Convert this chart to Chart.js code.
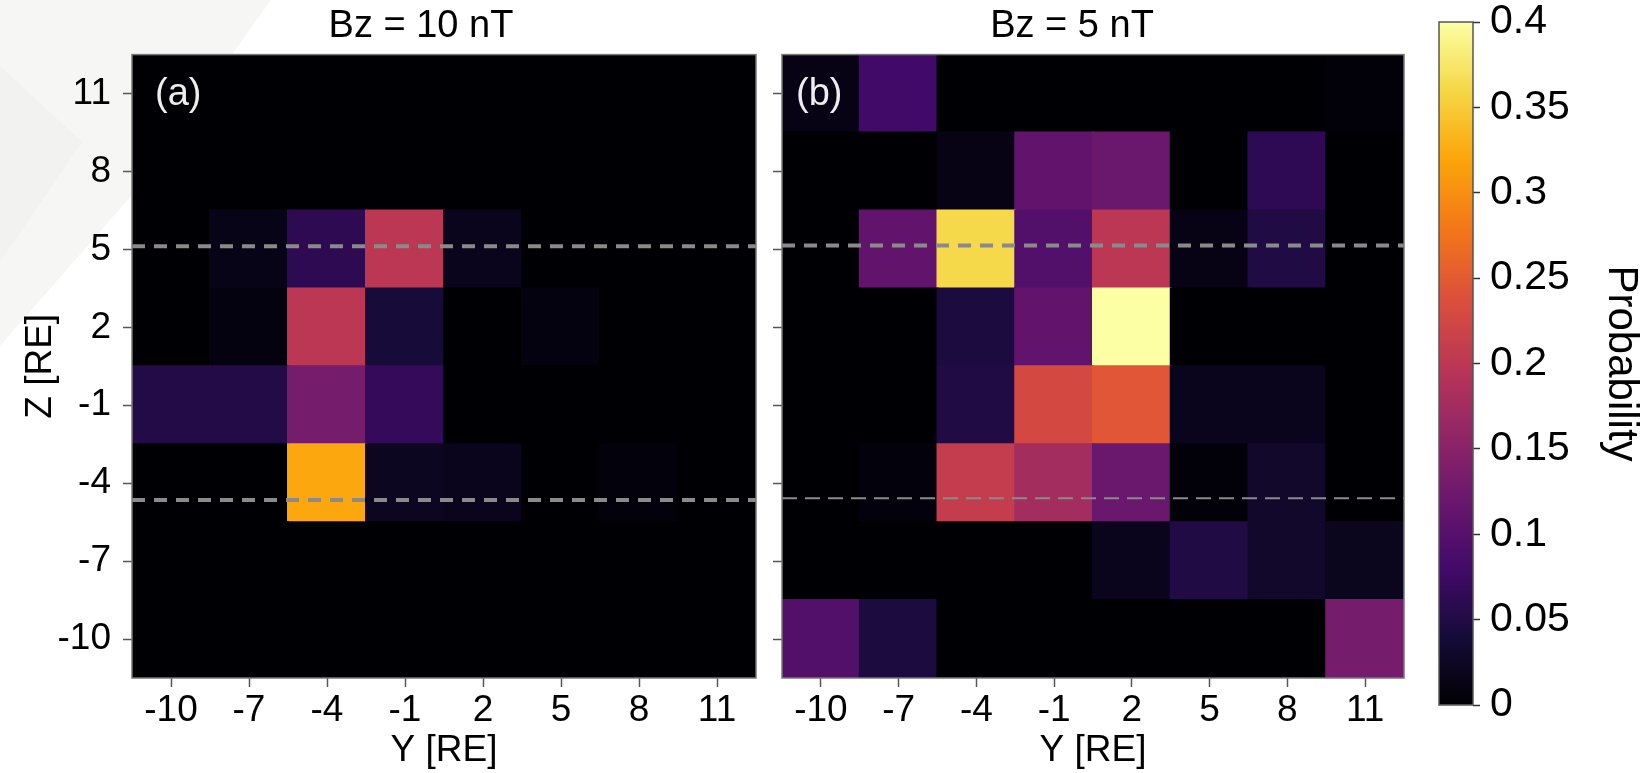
<!DOCTYPE html>
<html>
<head>
<meta charset="utf-8">
<script src="https://cdn.jsdelivr.net/npm/chart.js@4.4.0/dist/chart.umd.min.js"></script>
<style>
  html, body { margin: 0; padding: 0; background: #fff; }
  body { width: 1646px; height: 773px; position: relative; overflow: hidden; }
  .shade { position: absolute; left: 0; top: 0; width: 300px; height: 360px; }
  canvas { position: absolute; top: 0; }
  #chartA { left: 0; }
  #chartB { left: 740px; }
  #colorbar { left: 1400px; }
</style>
</head>
<body>
<div class="shade" style="background:#f6f6f4; clip-path: polygon(0 0, 271px 0, 132px 195px, 0 346px);"></div>
<div class="shade" style="background:#f2f2f0; clip-path: polygon(0 66px, 82px 142px, 0 262px);"></div>
<canvas id="chartA" width="842" height="773"></canvas>
<canvas id="chartB" width="666" height="773"></canvas>
<canvas id="colorbar" width="246" height="773"></canvas>
<script>
// bin centres (RE) and their tick labels
var yCenters = [-10, -7, -4, -1, 2, 5, 8, 11];
var zCenters = [11, 8, 5, 2, -1, -4, -7, -10];
var yTickLabels = ['-10', '-7', '-4', '-1', '2', '5', '8', '11'];
var zTickLabels = ['11', '8', '5', '2', '-1', '-4', '-7', '-10'];
var binWidth = 3;

// probability per bin, rows follow zCenters (top to bottom), columns follow yCenters
var probBz10 = [
    [0, 0, 0, 0, 0, 0, 0, 0],
    [0, 0, 0, 0, 0, 0, 0, 0],
    [0, 0.015, 0.062, 0.2, 0.018, 0, 0, 0],
    [0, 0.008, 0.2, 0.04, 0, 0.008, 0, 0],
    [0.052, 0.052, 0.132, 0.068, 0, 0, 0, 0],
    [0, 0, 0.322, 0.022, 0.018, 0, 0.006, 0],
    [0, 0, 0, 0, 0, 0, 0, 0],
    [0, 0, 0, 0, 0, 0, 0, 0]
];
var probBz5 = [
    [0.012, 0.08, 0, 0, 0, 0, 0, 0.004],
    [0, 0, 0.012, 0.112, 0.12, 0, 0.063, 0],
    [0, 0.112, 0.362, 0.097, 0.2, 0.012, 0.05, 0],
    [0, 0, 0.045, 0.112, 0.4, 0, 0, 0],
    [0, 0, 0.05, 0.228, 0.245, 0.018, 0.018, 0],
    [0, 0.005, 0.21, 0.176, 0.12, 0.004, 0.03, 0],
    [0, 0, 0, 0, 0.018, 0.05, 0.03, 0.02],
    [0.097, 0.045, 0, 0, 0, 0, 0, 0.132]
];

// dashed reference levels (Z, RE)
var levelsBz10 = [5.12, -4.65];
var levelsBz5 = [5.15, -4.58];

// colour bar
var cbMin = 0;
var cbMax = 0.4;
var cbTicks = [0, 0.05, 0.1, 0.15, 0.2, 0.25, 0.3, 0.35, 0.4];
var cbTickLabels = ['0', '0.05', '0.1', '0.15', '0.2', '0.25', '0.3', '0.35', '0.4'];

var xMin = -11.5, xMax = 12.5, zMin = -11.5, zMax = 12.5;

var infernoStops = ['#000004', '#160b39', '#420a68', '#6a176e', '#932667', '#bc3754',
    '#dd513a', '#f37819', '#fca50a', '#f6d746', '#fcffa4'];

function hexRgb(h) {
    return [parseInt(h.substr(1, 2), 16), parseInt(h.substr(3, 2), 16), parseInt(h.substr(5, 2), 16)];
}

function inferno(t) {
    t = Math.max(0, Math.min(1, t));
    var p = t * (infernoStops.length - 1);
    var i = Math.min(Math.floor(p), infernoStops.length - 2);
    var f = p - i;
    var a = hexRgb(infernoStops[i]), b = hexRgb(infernoStops[i + 1]);
    var c = a.map(function (v, k) { return Math.round(v + (b[k] - v) * f); });
    return 'rgb(' + c.join(',') + ')';
}

function cells(prob) {
    var out = [];
    zCenters.forEach(function (z, i) {
        yCenters.forEach(function (y, j) {
            out.push({ x: y, y: [z - binWidth / 2, z + binWidth / 2], v: prob[i][j] });
        });
    });
    return out;
}

function levelLine(z, width, dash) {
    return {
        type: 'line',
        data: [{ x: xMin, y: z }, { x: xMax, y: z }],
        borderColor: '#8a8a8a',
        borderWidth: width,
        borderDash: dash,
        pointRadius: 0,
        order: 1
    };
}

// frame round the plot area, like the matplotlib spines
var panelFrame = {
    id: 'panelFrame',
    afterDatasetsDraw: function (chart, args, opts) {
        var a = chart.chartArea, ctx = chart.ctx;
        ctx.save();
        ctx.strokeStyle = opts.color || '#777';
        ctx.lineWidth = opts.width || 1.5;
        ctx.strokeRect(a.left, a.top, a.right - a.left, a.bottom - a.top);
        ctx.restore();
    }
};

// "(a)" / "(b)" in the corner of each panel
var panelTag = {
    id: 'panelTag',
    afterDatasetsDraw: function (chart, args, opts) {
        if (!opts.text) return;
        var a = chart.chartArea, ctx = chart.ctx;
        ctx.save();
        ctx.fillStyle = '#eeeeee';
        ctx.font = '38px "Liberation Sans", Arial, sans-serif';
        ctx.textBaseline = 'middle';
        ctx.fillText(opts.text, a.left + opts.dx, a.top + opts.dy);
        ctx.restore();
    }
};

Chart.defaults.font.family = '"Liberation Sans", Arial, sans-serif';
Chart.defaults.color = '#000';

function heatmap(canvasId, title, prob, levels, lowerWidth, lowerDash, tag, showZLabels, yWidth, padRight) {
    var scales = {
        x: {
            type: 'linear', min: xMin, max: xMax, offset: false,
            afterBuildTicks: function (s) { s.ticks = yCenters.map(function (v) { return { value: v }; }); },
            ticks: {
                autoSkip: false, maxRotation: 0, padding: 2,
                font: { size: 37 },
                callback: function (v, i) { return yTickLabels[i]; }
            },
            grid: { drawOnChartArea: false, tickLength: 9, tickColor: '#555', tickWidth: 1.5, offset: false },
            border: { display: false },
            title: { display: true, text: 'Y [RE]', font: { size: 37 }, padding: { top: 0, bottom: 0 } },
            afterFit: function (s) { s.height = 95; }
        },
        y: {
            type: 'linear', min: zMin, max: zMax,
            afterBuildTicks: function (s) { s.ticks = zCenters.map(function (v) { return { value: v }; }); },
            ticks: {
                display: showZLabels, autoSkip: false, padding: 12,
                font: { size: 37 },
                callback: function (v, i) { return zTickLabels[i]; }
            },
            grid: { drawOnChartArea: false, tickLength: 9, tickColor: '#555', tickWidth: 1.5 },
            border: { display: false },
            title: { display: showZLabels, text: 'Z [RE]', font: { size: 37 }, padding: { top: 19, bottom: 0 } },
            afterFit: function (s) { s.width = yWidth; }
        }
    };
    if (padRight) {
        // empty right-hand box so the panel title centres like the original
        scales.pad = {
            type: 'linear', position: 'right', display: true,
            grid: { display: false }, ticks: { display: false }, border: { display: false },
            afterFit: function (s) { s.width = padRight; }
        };
    }
    return new Chart(document.getElementById(canvasId), {
        type: 'bar',
        data: {
            datasets: [
                {
                    data: cells(prob),
                    backgroundColor: function (ctx) { return ctx.raw ? inferno((ctx.raw.v - cbMin) / (cbMax - cbMin)) : '#000'; },
                    borderWidth: 0,
                    inflateAmount: 1,
                    barPercentage: 1,
                    categoryPercentage: 1,
                    grouped: false,
                    order: 2
                },
                levelLine(levels[0], 4, [13, 9]),
                levelLine(levels[1], lowerWidth, lowerDash)
            ]
        },
        options: {
            responsive: false,
            animation: false,
            events: [],
            devicePixelRatio: 1,
            layout: { padding: { left: 0, right: padRight ? 0 : 2, top: 0, bottom: 0 } },
            plugins: {
                legend: { display: false },
                tooltip: { enabled: false },
                title: {
                    display: true, text: title,
                    font: { size: 38, weight: 'normal' },
                    padding: { top: 4, bottom: 5 }
                },
                panelFrame: { color: '#777', width: 1.5 },
                panelTag: tag
            },
            scales: scales
        },
        plugins: [panelFrame, panelTag]
    });
}

heatmap('chartA', 'Bz = 10 nT', probBz10, levelsBz10, 4, [13, 9], { text: '(a)', dx: 23, dy: 40 }, true, 132, 86);
heatmap('chartB', 'Bz = 5 nT', probBz5, levelsBz5, 2, [15, 8], { text: '(b)', dx: 14, dy: 40 }, false, 42, 0);

new Chart(document.getElementById('colorbar'), {
    type: 'bar',
    data: {
        labels: [''],
        datasets: [{
            data: [[cbMin, cbMax]],
            backgroundColor: function (ctx) {
                var area = ctx.chart.chartArea;
                if (!area) return '#000';
                var g = ctx.chart.ctx.createLinearGradient(0, area.bottom, 0, area.top);
                infernoStops.forEach(function (c, i) { g.addColorStop(i / (infernoStops.length - 1), c); });
                return g;
            },
            borderWidth: 0,
            barPercentage: 1,
            categoryPercentage: 1
        }]
    },
    options: {
        responsive: false,
        animation: false,
        events: [],
        devicePixelRatio: 1,
        layout: { padding: { left: 39, top: 22, bottom: 68, right: 0 } },
        plugins: {
            legend: { display: false },
            tooltip: { enabled: false },
            panelFrame: { color: '#555', width: 1.5 }
        },
        scales: {
            x: { display: false },
            y: {
                position: 'right', min: cbMin, max: cbMax,
                afterBuildTicks: function (s) { s.ticks = cbTicks.map(function (v) { return { value: v }; }); },
                ticks: {
                    autoSkip: false, padding: 10,
                    font: { size: 41 },
                    callback: function (v, i) { return cbTickLabels[i]; }
                },
                grid: { drawOnChartArea: false, tickLength: 7, tickColor: '#333', tickWidth: 1.5 },
                border: { display: false },
                title: { display: true, text: 'Probability', font: { size: 42 }, padding: { top: 0, bottom: 0 } },
                afterFit: function (s) {
                    s.width = 173;
                    s.paddingTop = 0;
                    s.paddingBottom = 0;
                }
            }
        }
    },
    plugins: [panelFrame]
});
</script>
</body>
</html>
